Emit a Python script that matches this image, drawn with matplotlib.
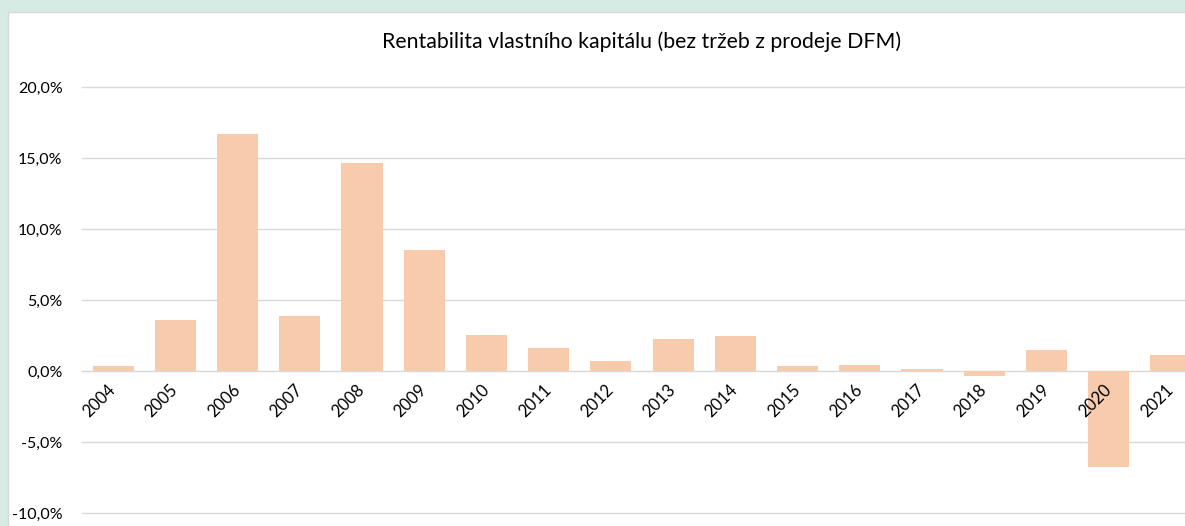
import matplotlib
matplotlib.use("Agg")
import matplotlib.pyplot as plt
from matplotlib.patches import Rectangle
from matplotlib.ticker import FuncFormatter

plt.rcParams['font.family'] = ['Lato', 'DejaVu Sans']

years = ['2004', '2005', '2006', '2007', '2008', '2009', '2010', '2011', '2012',
         '2013', '2014', '2015', '2016', '2017', '2018', '2019', '2020', '2021']
roe = [0.35, 3.6, 16.7, 3.9, 14.65, 8.55, 2.55, 1.6, 0.7,
       2.25, 2.45, 0.35, 0.42, 0.15, -0.35, 1.5, -6.75, 1.1]

W, H = 1185, 526
fig = plt.figure(figsize=(W / 100, H / 100), dpi=100)
fig.patch.set_facecolor('#d5ebe3')

# white chart area with thin grey border
fig.patches.append(Rectangle((8 / W, -0.1), 1.2, 1 - 12 / H + 0.1,
                             transform=fig.transFigure, facecolor='white',
                             edgecolor='#d9d9d9', linewidth=1, zorder=-1))

ax = fig.add_axes([82 / W, 1 - 513 / H, 1120 / W, 426 / H])
ax.set_facecolor('none')

x = range(len(years))
ax.bar(x, roe, width=0.66, color='#f8cbad', zorder=2)

ax.set_xlim(-0.5, len(years) - 0.5)
ax.set_ylim(-10, 20)
ax.set_yticks([-10, -5, 0, 5, 10, 15, 20])
ax.yaxis.set_major_formatter(FuncFormatter(lambda v, p: f"{v:.1f}%".replace('.', ',')))
ax.grid(axis='y', color='#d9d9d9', linewidth=1, zorder=0)
for gl in ax.get_ygridlines():
    gl.set_clip_on(False)
ax.set_axisbelow(True)
# year labels sit on top of the bars (2020 overlaps its bar)
ax.xaxis.set_zorder(3)

for s in ['top', 'right', 'left']:
    ax.spines[s].set_visible(False)
ax.spines['bottom'].set_position(('data', 0))
ax.spines['bottom'].set_color('#d9d9d9')
ax.spines['bottom'].set_zorder(1)

ax.set_xticks(list(x))
ax.set_xticklabels(years, rotation=45, ha='right', va='center', rotation_mode='anchor')
ax.tick_params(axis='x', length=0, pad=12, labelsize=12)
ax.tick_params(axis='y', length=0, pad=14, labelsize=11.5)

fig.text(642 / W, 1 - 42 / H, 'Rentabilita vlastního kapitálu (bez tržeb z prodeje DFM)',
         ha='center', va='center', fontsize=15.3)

fig.savefig('out.png', dpi=100, facecolor=fig.get_facecolor())
